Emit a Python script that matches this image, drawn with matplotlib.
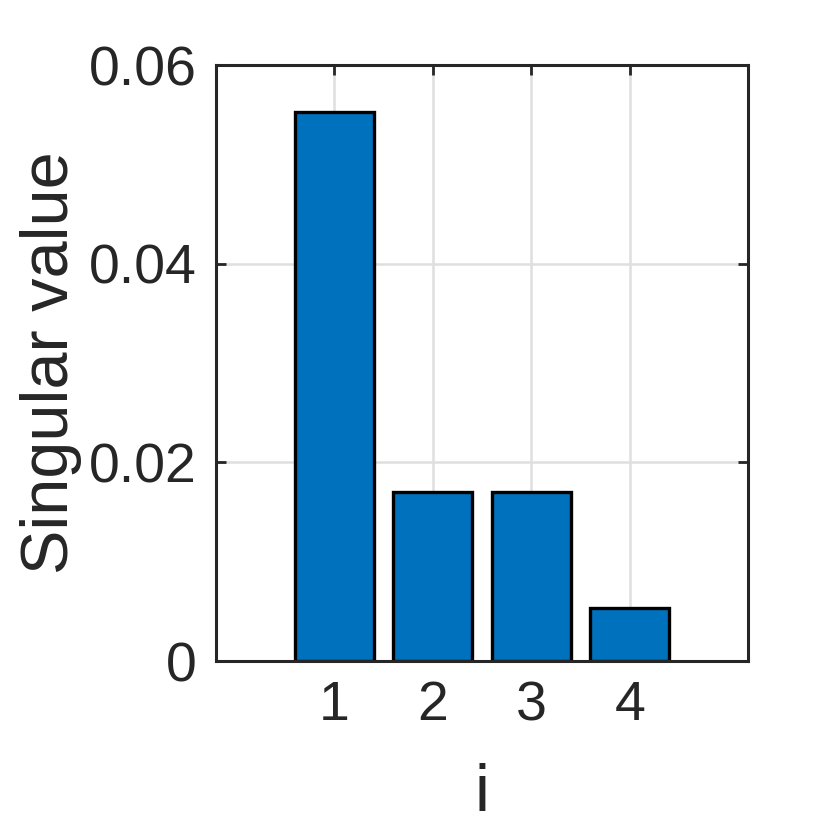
import numpy as np
import matplotlib
matplotlib.use("Agg")
from matplotlib import pyplot as plt

# singular values
idx = [1, 2, 3, 4]
sing_vals = [0.0553, 0.0170, 0.0170, 0.0053]
yticks = [0, 0.02, 0.04, 0.06]
ytick_labels = ["0", "0.02", "0.04", "0.06"]

plt.rcParams['font.family'] = ['Liberation Sans', 'DejaVu Sans']
dark = '#262626'

fig = plt.figure(figsize=(8.3, 8.3), dpi=100)
ax = fig.add_axes([216/830, 1 - 661/830, (748-216)/830, (661-65)/830])

ax.bar(idx, sing_vals, width=0.8, color='#0072bd', edgecolor='black',
       linewidth=2.4, zorder=2)

ax.set_xlim(-0.2, 5.2)
ax.set_ylim(0, 0.06)
ax.set_xticks(idx)
ax.set_yticks(yticks)
ax.set_yticklabels(ytick_labels)
ax.grid(True, color='#dfdfdf', linewidth=1.8, zorder=0)
ax.set_axisbelow(True)

ax.tick_params(direction='in', length=7, width=2, colors=dark,
               labelsize=40, top=True, right=True, pad=14)
for tl in ax.get_xticklabels() + ax.get_yticklabels():
    tl.set_color(dark)
for sp in ax.spines.values():
    sp.set_linewidth(2.2)
    sp.set_color(dark)
    sp.set_zorder(5)

ax.set_xlabel("i", fontsize=48, color=dark, labelpad=22)
ax.set_ylabel("Singular value", fontsize=48, color=dark, labelpad=5)

fig.savefig("out.png", dpi=100)
